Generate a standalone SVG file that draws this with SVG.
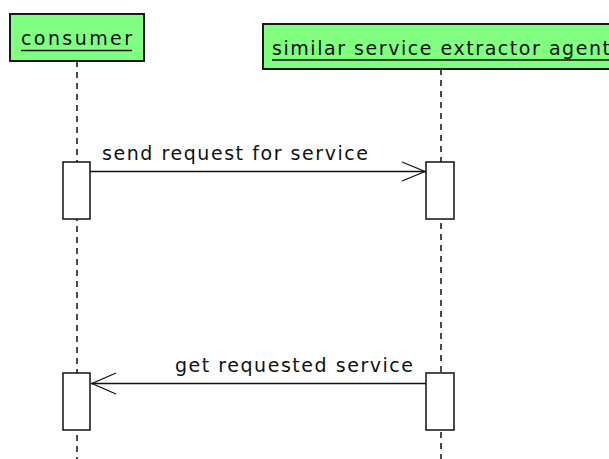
<svg xmlns="http://www.w3.org/2000/svg" width="609" height="459" viewBox="0 0 609 459">
<style>
.obj{fill:#80ff80;stroke:#1a1a1a;stroke-width:2}
.lbl{font-family:"DejaVu Sans","Liberation Sans",sans-serif;font-size:19px;fill:#111}
.ul{stroke:#111;stroke-width:1.5}
.life{stroke:#111;stroke-width:1.5;stroke-dasharray:6,5;fill:none}
.act{fill:#fff;stroke:#111;stroke-width:1.5}
.msg{stroke:#111;stroke-width:1.3;fill:none}
</style>
<rect width="609" height="459" fill="#fff"/>
<g id="lifelines">
<line class="life" x1="77" y1="61" x2="77" y2="459"/>
<line class="life" x1="441" y1="69" x2="441" y2="459"/>
</g>
<g id="consumer">
<rect class="obj" x="10" y="14" width="134" height="47"/>
<text class="lbl" x="21" y="45" textLength="111" lengthAdjust="spacing">consumer</text>
<line class="ul" x1="21" y1="50.5" x2="132" y2="50.5"/>
</g>
<g id="agent">
<rect class="obj" x="263" y="24" width="360" height="45"/>
<text class="lbl" x="272" y="55" textLength="338" lengthAdjust="spacing">similar service extractor agent</text>
<line class="ul" x1="272" y1="60" x2="609" y2="60"/>
</g>
<g id="act-consumer-1"><rect class="act" x="63" y="162" width="27" height="57"/></g>
<g id="act-agent-1"><rect class="act" x="426" y="162" width="28" height="57"/></g>
<g id="act-consumer-2"><rect class="act" x="63" y="373" width="27" height="57"/></g>
<g id="act-agent-2"><rect class="act" x="426" y="373" width="28" height="57"/></g>
<g id="connectors">
<line class="msg" x1="90" y1="171.5" x2="426" y2="171.5"/>
<polyline class="msg" points="402,162 425,171.5 402,181"/>
<text class="lbl" x="102" y="160" textLength="266" lengthAdjust="spacing">send request for service</text>
<line class="msg" x1="426" y1="383.5" x2="91" y2="383.5"/>
<polyline class="msg" points="116,373 92,383.5 116,394"/>
<text class="lbl" x="175" y="372" textLength="238" lengthAdjust="spacing">get requested service</text>
</g>
</svg>
